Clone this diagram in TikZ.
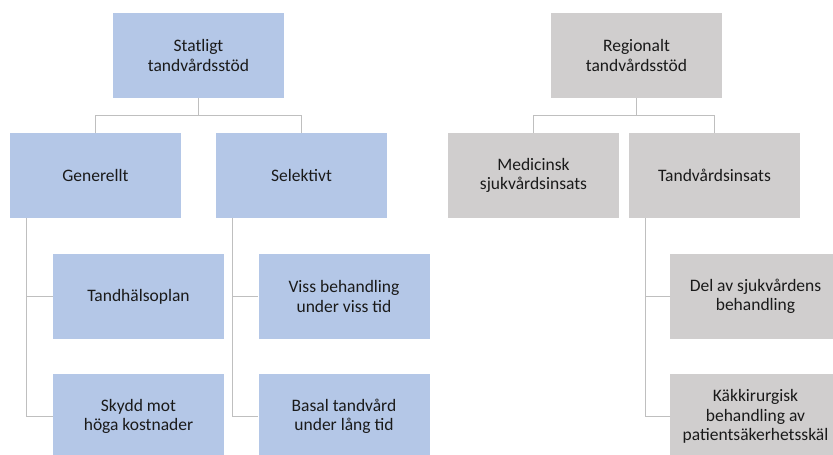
\documentclass[tikz,border=0pt]{standalone}
\usepackage{fontspec}
\setmainfont{Carlito}
\usetikzlibrary{calc}
\definecolor{statblue}{HTML}{B4C7E7}
\definecolor{reggray}{HTML}{D0CECE}
\definecolor{linegray}{HTML}{BFBFBF}
\definecolor{txt}{HTML}{1A1A1A}
\begin{document}
\begin{tikzpicture}[x=1pt, y=-1pt, every node/.style={font=\fontsize{17.5}{19.5}\selectfont, text=txt}]
  \tikzstyle{orgbox}=[minimum width=171pt,minimum height=85pt,inner sep=0pt,align=center]
  \tikzstyle{link}=[draw=linegray,line width=1.3pt]
  \useasboundingbox (0,0) rectangle (833,455);
  % statligt
  \node[orgbox,fill=statblue] (stat) at (198.5,55.5) {Statligt\\tandvårdsstöd};
  \node[orgbox,fill=statblue] (gen) at (95.5,175.5) {Generellt};
  \node[orgbox,fill=statblue] (sel) at (301.5,175.5) {Selektivt};
  \node[orgbox,fill=statblue] (plan) at (138.5,296.5) {Tandhälsoplan};
  \node[orgbox,fill=statblue] (skydd) at (138.5,416.5) {Skydd mot\\höga kostnader};
  \node[orgbox,fill=statblue] (viss) at (344,296.5) {Viss behandling\\under viss tid};
  \node[orgbox,fill=statblue] (basal) at (344,416.5) {Basal tandvård\\under lång tid};
  % regionalt
  \node[orgbox,fill=reggray] (reg) at (636.5,55.5) {Regionalt\\tandvårdsstöd};
  \node[orgbox,fill=reggray] (med) at (533.5,175.5) {Medicinsk\\sjukvårdsinsats};
  \node[orgbox,fill=reggray] (tins) at (714.5,175.5) {Tandvårdsinsats};
  \node[orgbox,fill=reggray] (del) at (755.5,296.5) {Del av sjukvårdens\\behandling};
  \node[orgbox,fill=reggray] (kak) at (755.5,416.5) {Käkkirurgisk\\behandling av\\patientsäkerhetsskäl};
  % connectors
  \draw[link] (stat.south) -- ++(0,17.5) -| (gen.north);
  \draw[link] (stat.south) -- ++(0,17.5) -| (sel.north);
  \draw[link] (reg.south) -- ++(0,17.5) -| (med.north);
  \draw[link] (reg.south) -- ++(0,17.5) -| (tins.north);
  \draw[link] ($(gen.south west)+(17,0)$) |- (plan.west);
  \draw[link] ($(gen.south west)+(17,0)$) |- (skydd.west);
  \draw[link] ($(sel.south west)+(17,0)$) |- (viss.west);
  \draw[link] ($(sel.south west)+(17,0)$) |- (basal.west);
  \draw[link] ($(tins.south west)+(17,0)$) |- (del.west);
  \draw[link] ($(tins.south west)+(17,0)$) |- (kak.west);
\end{tikzpicture}
\end{document}
